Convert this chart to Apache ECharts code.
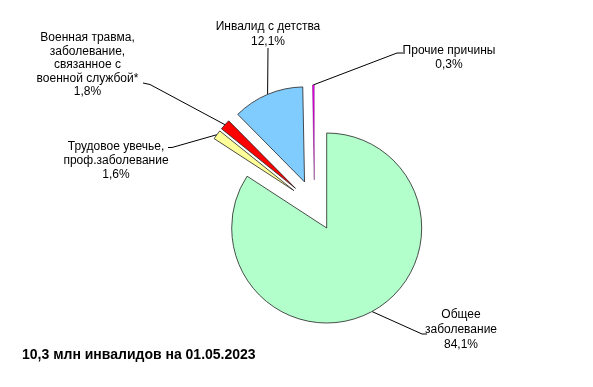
<!DOCTYPE html>
<html>
<head>
<meta charset="utf-8">
<script src="https://cdn.jsdelivr.net/npm/echarts@6/dist/echarts.min.js"></script>
<style>
html,body{margin:0;padding:0;background:#fff;}
#chart{width:593px;height:387px;}
</style>
</head>
<body>
<div id="chart"></div>
<script>
// ---- data ----
var categories = [
  'Общее\nзаболевание',
  'Трудовое увечье,\nпроф.заболевание',
  'Военная травма,\nзаболевание,\nсвязанное с\nвоенной службой*',
  'Инвалид с детства',
  'Прочие причины'
];
var values = [84.1, 1.6, 1.8, 12.1, 0.3];
var valueLabels = ['84,1%', '1,6%', '1,8%', '12,1%', '0,3%'];
var titleText = '10,3 млн инвалидов на 01.05.2023';

// ---- layout / style ----
var colors = ['#B3FFCC', '#FFFF99', '#FF0000', '#80CCFF', '#EE00EE'];
var borderColors = ['#222', '#222', '#222', '#222', '#550055'];
var borderWidths = [0.8, 0.8, 0.8, 0.8, 0.4];
var pieCenter = [314.5, 205.5];
var pieRadius = 95;
var explode = 25.6;
// label anchor: [centerX, topY, lineHeight], leader line extra points
var labelPos = [
  {x: 461, y: 307, lh: 15,   line: [[422, 334], [427, 334]]},
  {x: 116, y: 140, lh: 13.8, line: [[172, 147.5], [168, 147.5]]},
  {x: 87.5, y: 31, lh: 13.5, line: [[150, 84.5], [143, 83]]},
  {x: 268, y: 19,  lh: 15,   line: [[268, 48]]},
  {x: 449, y: 44,  lh: 13.5, line: [[397, 53], [403, 53]]}
];

var total = values.reduce(function (a, b) { return a + b; }, 0);
var series = [];
var cum = 0;
values.forEach(function (v, k) {
  var mid = (cum + v / 2) / total * 2 * Math.PI;
  cum += v;
  var c = [pieCenter[0] + explode * Math.sin(mid), pieCenter[1] - explode * Math.cos(mid)];
  series.push({
    type: 'pie',
    center: c,
    radius: pieRadius,
    startAngle: 90,
    clockwise: true,
    animation: false,
    silent: true,
    avoidLabelOverlap: false,
    emphasis: {disabled: true},
    label: {show: false},
    labelLine: {show: false},
    labelLayout: function (params) {
      var p = labelPos[k];
      var pts = [params.labelLinePoints ? params.labelLinePoints[0] : [0, 0]].concat(p.line);
      return {x: p.x, y: p.y, align: 'center', verticalAlign: 'top', labelLinePoints: pts};
    },
    data: values.map(function (val, i) {
      var item = {name: categories[i], value: val};
      if (i === k) {
        item.itemStyle = {color: colors[i], borderColor: borderColors[i], borderWidth: borderWidths[i]};
        item.label = {
          show: true,
          position: 'outside',
          formatter: categories[i] + '\n' + valueLabels[i],
          color: '#000',
          fontFamily: 'Liberation Sans, Arial, sans-serif',
          fontSize: 12,
          lineHeight: labelPos[i].lh,
          align: 'center'
        };
        item.labelLine = {show: true, lineStyle: {color: '#000', width: 1}};
      } else {
        item.itemStyle = {color: 'rgba(0,0,0,0)', borderWidth: 0};
        item.label = {show: false};
        item.labelLine = {show: false};
      }
      return item;
    })
  });
});

var chart = echarts.init(document.getElementById('chart'), null, {renderer: 'canvas'});
chart.setOption({
  backgroundColor: '#fff',
  title: {
    text: titleText,
    left: 17,
    top: 343,
    textStyle: {fontFamily: 'Liberation Sans, Arial, sans-serif', fontSize: 14, fontWeight: 'bold', color: '#000'}
  },
  series: series
});
</script>
</body>
</html>
